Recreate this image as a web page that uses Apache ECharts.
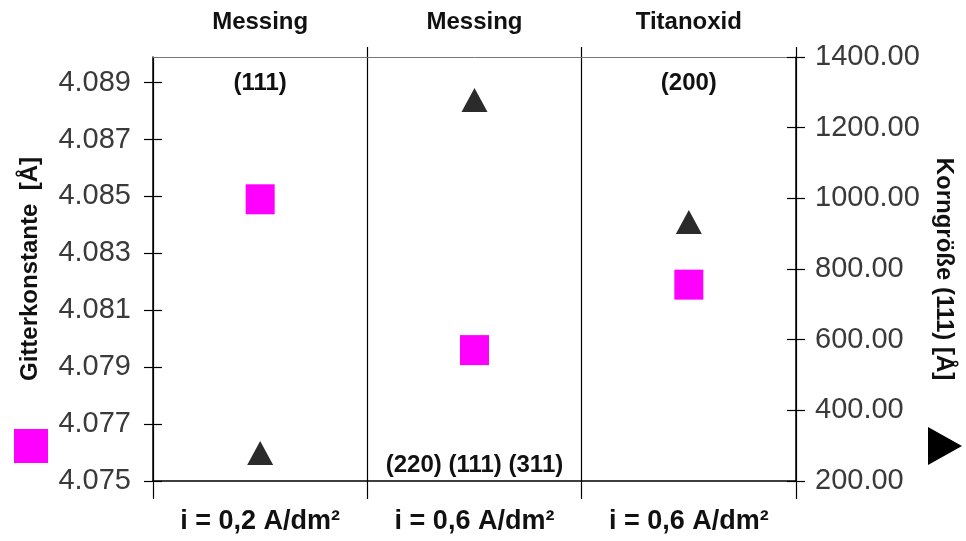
<!DOCTYPE html>
<html>
<head>
<meta charset="utf-8">
<script src="https://cdn.jsdelivr.net/npm/echarts@6/dist/echarts.min.js"></script>
<style>
  html, body { margin: 0; padding: 0; background: #fff; }
  #chart { width: 966px; height: 541px; }
</style>
</head>
<body>
<div id="chart"></div>
<script>
// Samples: current density (bottom), material (top)
const currentDensity = ['i = 0,2 A/dm²', 'i = 0,6 A/dm²', 'i = 0,6 A/dm²'];
const materials = ['Messing', 'Messing', 'Titanoxid'];

// Lattice constant [Å] (left axis, squares)
const latticeConstant = [4.0849, 4.0796, 4.0819];
// Grain size (111) [Å] (right axis, triangles)
const grainSize = [279, 1278, 933];

// Reflex annotations placed on the grain size scale
const reflexLabels = ['(111)', '(220) (111) (311)', '(200)'];
const reflexLevels = [1326, 245, 1326];

// Axis ranges and tick values
const latticeRange = { min: 4.075, max: 4.0899 };
const latticeTickValues = [4.075, 4.077, 4.079, 4.081, 4.083, 4.085, 4.087, 4.089];
const grainRange = { min: 200, max: 1400, step: 200 };

const FONT = 'Liberation Sans, Arial, sans-serif';
const chart = echarts.init(document.getElementById('chart'), null, { renderer: 'canvas' });

const tickLen = 9;
const valueLabelStyle = { fontFamily: FONT, fontSize: 29, color: '#3a3a3a' };
const tickLine = { color: '#000', width: 1.2 };

chart.setOption({
  animation: false,
  backgroundColor: '#ffffff',
  grid: { left: 153, right: 170, top: 57, bottom: 60 },
  legend: [
    {
      data: ['Gitterkonstante'],
      left: 14, top: 429, padding: 0,
      icon: 'rect', itemWidth: 34, itemHeight: 34,
      selectedMode: false, formatter: () => ''
    },
    {
      data: ['Korngröße'],
      left: 928, top: 427, padding: 0,
      icon: 'path://M0,0 L34,19 L0,38 Z', itemWidth: 34, itemHeight: 38,
      itemStyle: { color: '#000' },
      selectedMode: false, formatter: () => ''
    }
  ],
  xAxis: [
    {
      type: 'category', position: 'bottom', data: currentDensity,
      boundaryGap: true,
      axisLine: { lineStyle: { color: '#000', width: 1.5 } },
      axisTick: { show: true, length: 18, lineStyle: tickLine },
      axisLabel: { fontFamily: FONT, fontSize: 27, fontWeight: 'bold', color: '#111', margin: 27 },
      splitLine: { show: true, lineStyle: { color: '#000', width: 1.2 } }
    },
    {
      type: 'category', position: 'top', data: materials,
      boundaryGap: true,
      axisLine: { lineStyle: { color: '#777', width: 1 } },
      axisTick: { show: true, length: 10, interval: (i) => i > 0, lineStyle: tickLine },
      axisLabel: { fontFamily: FONT, fontSize: 24, fontWeight: 'bold', color: '#111', margin: 23 },
      splitLine: { show: false }
    }
  ],
  yAxis: [
    {
      type: 'value', position: 'left',
      min: latticeRange.min, max: latticeRange.max,
      name: 'Gitterkonstante  [Å]', nameLocation: 'middle', nameRotate: 90, nameGap: 111,
      nameTextStyle: { fontFamily: FONT, fontSize: 24, fontWeight: 'bold', color: '#111' },
      axisLine: { show: true, lineStyle: { color: '#000', width: 1.5 } },
      axisTick: { show: true, length: tickLen, customValues: latticeTickValues, lineStyle: tickLine },
      axisLabel: Object.assign({
        margin: 22,
        customValues: latticeTickValues,
        formatter: (v) => v.toFixed(3)
      }, valueLabelStyle),
      splitLine: { show: false }
    },
    {
      type: 'value', position: 'right',
      min: grainRange.min, max: grainRange.max, interval: grainRange.step,
      name: 'Korngröße (111) [Å]', nameLocation: 'middle', nameRotate: -90, nameGap: 136,
      nameTextStyle: { fontFamily: FONT, fontSize: 24, fontWeight: 'bold', color: '#111' },
      axisLine: { show: true, lineStyle: { color: '#000', width: 1.5 } },
      axisTick: { show: true, length: tickLen, lineStyle: tickLine },
      axisLabel: Object.assign({ margin: 19, formatter: (v) => v.toFixed(2) }, valueLabelStyle),
      splitLine: { show: false }
    },
    {
      // inner half of the left tick marks
      type: 'value', position: 'left',
      min: latticeRange.min, max: latticeRange.max,
      axisLine: { show: false },
      axisTick: { show: true, inside: true, length: tickLen, customValues: latticeTickValues, lineStyle: tickLine },
      axisLabel: { show: false }, splitLine: { show: false }
    },
    {
      // inner half of the right tick marks
      type: 'value', position: 'right',
      min: grainRange.min, max: grainRange.max, interval: grainRange.step,
      axisLine: { show: false },
      axisTick: { show: true, inside: true, length: tickLen, lineStyle: tickLine },
      axisLabel: { show: false }, splitLine: { show: false }
    }
  ],
  series: [
    {
      name: 'Gitterkonstante', type: 'scatter', xAxisIndex: 0, yAxisIndex: 0,
      symbol: 'rect', symbolSize: [29, 30],
      itemStyle: { color: '#ff00ff', opacity: 1 },
      data: latticeConstant.map((v, i) => [i, v]),
      z: 5
    },
    {
      name: 'Korngröße', type: 'scatter', xAxisIndex: 0, yAxisIndex: 1,
      symbol: 'triangle', symbolSize: [26, 24],
      itemStyle: { color: '#2b2b2b', opacity: 1 },
      data: grainSize.map((v, i) => [i, v]),
      z: 5
    },
    {
      name: 'Reflexe', type: 'scatter', xAxisIndex: 0, yAxisIndex: 1,
      symbol: 'circle', symbolSize: 1,
      itemStyle: { color: '#ffffff', opacity: 1 },
      label: {
        show: true, position: 'inside',
        formatter: (p) => reflexLabels[p.dataIndex],
        fontFamily: FONT, fontSize: 24, fontWeight: 'bold', color: '#111', opacity: 1
      },
      emphasis: { disabled: true },
      data: reflexLevels.map((v, i) => [i, v]),
      silent: true, z: 6
    }
  ]
});
</script>
</body>
</html>
